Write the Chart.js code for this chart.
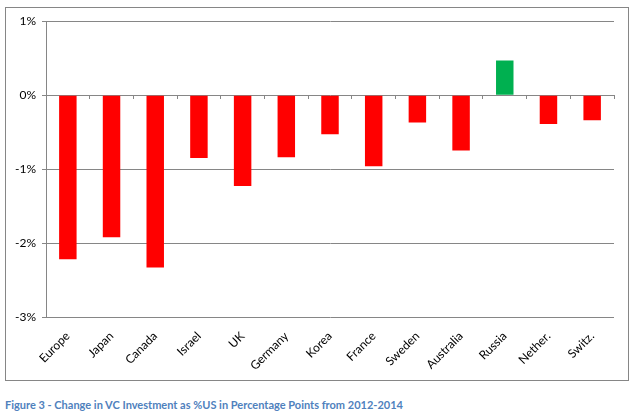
<!DOCTYPE html>
<html>
<head>
<meta charset="utf-8">
<script src="https://cdn.jsdelivr.net/npm/chart.js@4"></script>
<style>
  html, body { margin: 0; padding: 0; background: #fff; }
  #frame { position: absolute; left: 5px; top: 7px; width: 622px; height: 372px; border: 1px solid #868686; }
  #frame canvas { display: block; }
  #caption { position: absolute; left: 5px; top: 398px; font-family: Lato, "Open Sans", sans-serif; font-weight: bold; font-size: 11px; color: #4f81bd; white-space: nowrap; }
</style>
</head>
<body>
<div id="frame"><canvas id="c" width="622" height="372"></canvas></div>
<div id="caption">Figure 3 - Change in VC Investment as %US in Percentage Points from 2012-2014</div>
<script>
const categories = ["Europe", "Japan", "Canada", "Israel", "UK", "Germany", "Korea", "France", "Sweden", "Australia", "Russia", "Nether.", "Switz."];
const changePct = [-2.22, -1.92, -2.33, -0.85, -1.23, -0.84, -0.53, -0.96, -0.37, -0.75, 0.47, -0.39, -0.34];
const yTicks = [1, 0, -1, -2, -3];

const RED = "#ff0000", GREEN = "#00b050", GRID = "#868686";

new Chart(document.getElementById("c"), {
  type: "bar",
  data: {
    labels: categories,
    datasets: [{
      data: changePct,
      backgroundColor: changePct.map(v => v >= 0 ? GREEN : RED),
      borderWidth: 0,
      barPercentage: 0.4,
      categoryPercentage: 1.0
    }]
  },
  options: {
    responsive: false,
    animation: false,
    devicePixelRatio: 1,
    layout: { padding: { top: 13, right: 14, left: 0, bottom: 0 } },
    plugins: { legend: { display: false }, tooltip: { enabled: false } },
    scales: {
      x: {
        position: "bottom",
        grid: { display: false },
        border: { display: false },
        ticks: {
          autoSkip: false, maxRotation: 45, minRotation: 45, padding: 4,
          color: "#000", font: { family: "Lato", size: 12 }
        },
        afterFit: s => { s.height = 63; }
      },
      x0: {
        type: "category",
        position: { y: 0 },
        grid: { drawOnChartArea: false, tickLength: 4, color: GRID, offset: true },
        border: { display: false },
        ticks: { display: false }
      },
      y: {
        min: -3, max: 1,
        afterBuildTicks: s => { s.ticks = yTicks.map(v => ({ value: v })); },
        grid: { color: GRID, tickLength: 4 },
        border: { display: true, color: GRID },
        ticks: {
          padding: 6, color: "#000", font: { family: "Lato", size: 12 },
          callback: v => v + "%"
        },
        afterFit: s => { s.width = 40; }
      }
    }
  }
});
</script>
</body>
</html>
